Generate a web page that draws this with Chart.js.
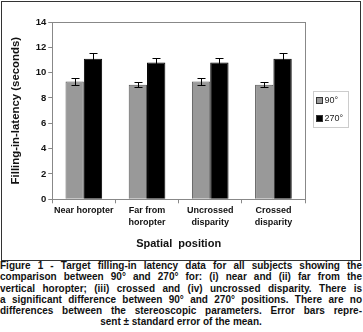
<!DOCTYPE html>
<html>
<head>
<meta charset="utf-8">
<script src="https://cdn.jsdelivr.net/npm/chart.js@4"></script>
<style>
  body { margin: 0; background: #fff; width: 363px; height: 332px; overflow: hidden; }
  #frame { position: absolute; left: 1px; top: 1px; width: 358px; height: 258px; border: 1px solid #333; }
  #caption {
    position: absolute; left: 0; top: 260px; width: 362px;
    font: bold 10px "Liberation Sans", Arial, sans-serif; line-height: 11.3px; color: #111;
  }
  #caption div { text-align: justify; text-align-last: justify; white-space: nowrap; }
  #caption div.last { text-align: center; text-align-last: center; }
</style>
</head>
<body>
<div id="frame"><canvas id="chart" width="358" height="258"></canvas></div>
<div id="caption">
  <div>Figure 1 - Target filling-in latency data for all subjects showing the</div>
  <div>comparison between 90° and 270° for: (i) near and (ii) far from the</div>
  <div>vertical horopter; (iii) crossed and (iv) uncrossed disparity. There is</div>
  <div>a significant difference between 90° and 270° positions. There are no</div>
  <div>differences between the stereoscopic parameters. Error bars repre-</div>
  <div class="last">sent ± standard error of the mean.</div>
</div>
<script>
const categories = [['Near horopter'], ['Far from', 'horopter'], ['Uncrossed', 'disparity'], ['Crossed', 'disparity']]
const seriesNames = ['90°', '270°']
const values90 = [9.3, 9.05, 9.3, 9.05]
const values270 = [11.1, 10.8, 10.8, 11.1]
const err90 = [0.3, 0.22, 0.3, 0.22]
const err270 = [0.42, 0.35, 0.35, 0.42]
const yTicks = [0, 2, 4, 6, 8, 10, 12, 14]

const font = 'Liberation Sans'

// error bars drawn from the data through the y scale
const errorBars = {
  id: 'errorBars',
  afterDatasetsDraw(chart) {
    const c = chart.ctx
    const y = chart.scales.y
    const errs = [err90, err270]
    chart.data.datasets.forEach((ds, i) => {
      chart.getDatasetMeta(i).data.forEach((bar, j) => {
        const x = Math.round(bar.x) + 0.5
        const top = Math.round(y.getPixelForValue(ds.data[j] + errs[i][j])) + 0.5
        const bot = Math.round(y.getPixelForValue(ds.data[j] - errs[i][j])) + 0.5
        c.save()
        c.strokeStyle = '#000'
        c.lineWidth = 1
        c.beginPath()
        c.moveTo(x, top); c.lineTo(x, bot)
        c.moveTo(x - 4, top); c.lineTo(x + 4, top)
        c.moveTo(x - 4, bot); c.lineTo(x + 4, bot)
        c.stroke()
        c.restore()
      })
    })
  }
}

// plot frame plus a boxed legend to the right of the plot
const frameAndLegend = {
  id: 'frameAndLegend',
  afterDraw(chart) {
    const c = chart.ctx
    const a = chart.chartArea
    c.save()
    c.strokeStyle = '#888'
    c.lineWidth = 1
    c.strokeRect(Math.round(a.left) + 0.5, Math.round(a.top) + 0.5, Math.round(a.right - a.left), Math.round(a.bottom - a.top))

    const bx = Math.round(a.right) + 8.5
    const by = Math.round((a.top + a.bottom) / 2) - 19.5
    c.strokeStyle = '#ccc'
    c.strokeRect(bx, by, 35, 36)
    c.font = '9px ' + font
    c.textBaseline = 'middle'
    chart.data.datasets.forEach((ds, i) => {
      const yy = by + 9 + i * 18
      c.fillStyle = ds.backgroundColor
      c.fillRect(bx + 3, yy - 3, 6, 6)
      c.strokeStyle = '#333'
      c.strokeRect(bx + 3, yy - 3, 6, 6)
      c.fillStyle = '#222'
      c.fillText(ds.label, bx + 11, yy)
    })
    c.restore()
  }
}

new Chart(document.getElementById('chart'), {
  type: 'bar',
  data: {
    labels: categories,
    datasets: [
      { label: seriesNames[0], data: values90, backgroundColor: '#999', borderColor: '#555', borderWidth: 1 },
      { label: seriesNames[1], data: values270, backgroundColor: '#000', borderColor: '#000', borderWidth: 1 }
    ]
  },
  options: {
    responsive: false,
    animation: false,
    devicePixelRatio: 1,
    categoryPercentage: 0.58,
    barPercentage: 1,
    layout: { padding: { top: 20, right: 55, bottom: 9, left: 7 } },
    plugins: {
      tooltip: { enabled: false },
      legend: { display: false }
    },
    scales: {
      x: {
        grid: { drawOnChartArea: false, tickLength: 4, color: '#888' },
        border: { color: '#888' },
        ticks: { color: '#111', font: { family: font, size: 9, weight: 'bold', lineHeight: 1.25 }, maxRotation: 0, padding: 2 },
        title: { display: true, text: 'Spatial  position', color: '#111', font: { family: font, size: 11, weight: 'bold' }, padding: { top: 8, bottom: 0 } }
      },
      y: {
        min: 0, max: 14,
        afterBuildTicks: (s) => { s.ticks = yTicks.map(v => ({ value: v })) },
        grid: { drawOnChartArea: false, tickLength: 4, color: '#888' },
        border: { color: '#888' },
        ticks: { color: '#111', font: { family: font, size: 9.5, weight: 'bold' }, padding: 2 },
        title: { display: true, text: 'Filling-in-latency (seconds)', color: '#111', font: { family: font, size: 11.4, weight: 'bold' }, padding: { top: 0, bottom: 11 } }
      }
    }
  },
  plugins: [errorBars, frameAndLegend]
})
</script>
</body>
</html>
